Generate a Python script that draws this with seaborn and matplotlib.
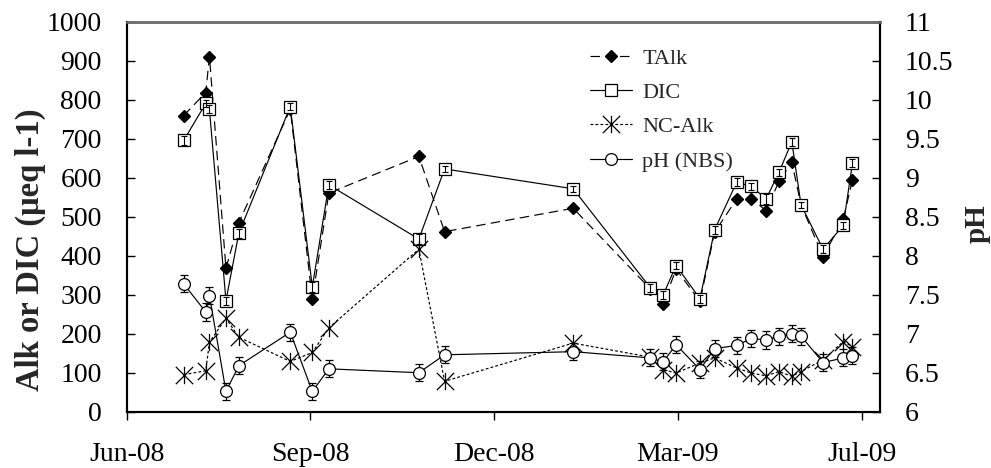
import matplotlib
matplotlib.use("Agg")
import matplotlib.pyplot as plt
import matplotlib.dates as mdates
from matplotlib.path import Path
from matplotlib.ticker import FuncFormatter, MultipleLocator
import pandas as pd
import seaborn as sns

# Sampling dates and measured series
sample_dates = [
    "2008-07-02", "2008-07-14", "2008-07-16", "2008-07-25", "2008-08-01",
    "2008-08-29", "2008-09-10", "2008-09-19", "2008-11-07", "2008-11-21",
    "2009-01-30", "2009-03-13", "2009-03-20", "2009-03-27", "2009-04-09",
    "2009-04-17", "2009-04-29", "2009-05-07", "2009-05-15", "2009-05-22",
    "2009-05-29", "2009-06-03", "2009-06-15", "2009-06-26", "2009-07-01",
]
talk = [760, 819, 911, 368, 485, 776, 289, 561, 655, 462, 522, 315, 277,
        366, 283, 461, 546, 546, 516, 591, 640, 531, 398, 494, 595]
dic = [696, 791, 776, 285, 458, 783, 320, 582, 443, 623, 572, 318, 300,
       375, 290, 467, 589, 578, 546, 614, 693, 531, 417, 478, 638]
dic_err = [12, 10, 10, 10, 12, 8, 12, 10, 12, 8, 8, 10, 10,
           10, 10, 10, 10, 10, 12, 10, 10, 8, 10, 10, 10]
nc_alk = [95, 105, 178, 240, 191, 129, 152, 215, 417, 78, 176, 140, 108,
          99, 125, 138, 112, 99, 92, 103, 91, 103, 133, 180, 167]
ph = [7.64, 7.28, 7.49, 6.26, 6.59, 7.02, 6.26, 6.55, 6.50, 6.73, 6.77,
      6.69, 6.64, 6.86, 6.54, 6.81, 6.85, 6.94, 6.92, 6.97, 7.00, 6.97,
      6.63, 6.69, 6.72]
ph_err = [0.11, 0.11, 0.11, 0.11, 0.11, 0.11, 0.11, 0.11, 0.11, 0.11, 0.11,
          0.11, 0.11, 0.11, 0.11, 0.11, 0.11, 0.11, 0.11, 0.11, 0.11, 0.11,
          0.11, 0.11, 0.11]

series_labels = ["TAlk", "DIC", "NC-Alk", "pH (NBS)"]
axis_start, axis_end = "2008-06-01", "2009-07-16"

sns.set_theme(style="white")
plt.rcParams["font.family"] = ["Liberation Serif", "DejaVu Serif"]

df = pd.DataFrame({
    "date": pd.to_datetime(sample_dates),
    "TAlk": talk, "DIC": dic, "NC-Alk": nc_alk, "pH": ph,
})

fig = plt.figure(figsize=(9.91, 4.68), dpi=100)
ax = fig.add_axes([0.1279, 0.1203, 0.7601, 0.8327])
ax2 = ax.twinx()

# Asterisk marker: vertical bar plus a cross
asterisk = Path(
    [(0, -1), (0, 1), (-1, -1), (1, 1), (-1, 1), (1, -1)],
    [Path.MOVETO, Path.LINETO, Path.MOVETO, Path.LINETO, Path.MOVETO, Path.LINETO],
)

common = dict(estimator=None, sort=False, color="black", linewidth=0.85)

sns.lineplot(data=df, x="date", y="TAlk", ax=ax, linestyle=(0, (8, 4.5)),
             marker="D", markersize=5.8, markerfacecolor="black",
             markeredgecolor="black", markeredgewidth=1.0,
             label=series_labels[0], zorder=3, **common)
sns.lineplot(data=df, x="date", y="DIC", ax=ax, linestyle="-",
             marker="s", markersize=8.4, markerfacecolor="white",
             markeredgecolor="black", markeredgewidth=0.9,
             label=series_labels[1], zorder=3, **common)
ax.errorbar(df["date"], dic, yerr=dic_err, fmt="none", ecolor="black",
            elinewidth=0.8, capsize=2.3, capthick=0.8, zorder=4)
sns.lineplot(data=df, x="date", y="NC-Alk", ax=ax, linestyle=(0, (2.4, 1.8)),
             marker=asterisk, markersize=12.5, markerfacecolor="none",
             markeredgecolor="black", markeredgewidth=0.9,
             label=series_labels[2], zorder=3, **common)

ax2.errorbar(df["date"], ph, yerr=ph_err, fmt="none", ecolor="black",
             elinewidth=0.9, capsize=3.2, capthick=0.9, zorder=2)
sns.lineplot(data=df, x="date", y="pH", ax=ax2, linestyle="-",
             marker="o", markersize=8.5, markerfacecolor="white",
             markeredgecolor="black", markeredgewidth=0.9,
             label=series_labels[3], zorder=3, **common)

# Axis ranges and ticks
ax.set_xlim(pd.Timestamp(axis_start), pd.Timestamp(axis_end))
ax.set_xticks(pd.date_range(axis_start, periods=5, freq="100D"))
ax.xaxis.set_major_formatter(mdates.DateFormatter("%b-%y"))
ax.set_ylim(0, 1000)
ax.yaxis.set_major_locator(MultipleLocator(100))
ax2.set_ylim(6, 11)
ax2.yaxis.set_major_locator(MultipleLocator(0.5))
ax2.yaxis.set_major_formatter(FuncFormatter(lambda v, _: f"{v:g}"))

ax.set_xlabel("")
ax.set_ylabel("")
ax2.set_ylabel("")

ax.tick_params(axis="y", direction="in", length=6, width=1.0, pad=18,
               labelsize=20, left=True, right=False, colors="black")
ax.tick_params(axis="x", direction="out", length=6, width=1.0, pad=16,
               labelsize=20, bottom=True, colors="black")
ax2.tick_params(axis="y", direction="in", length=6, width=1.0, pad=18,
                labelsize=20, right=True, left=False, colors="black")

for a in (ax, ax2):
    for side in ("left", "right", "bottom"):
        a.spines[side].set_color("black")
        a.spines[side].set_linewidth(1.5)
    a.spines["top"].set_color("#6e6e6e")
    a.spines["top"].set_linewidth(1.8)

# Legend combining both axes
h1, l1 = ax.get_legend_handles_labels()
h2, l2 = ax2.get_legend_handles_labels()
for a in (ax, ax2):
    if a.get_legend() is not None:
        a.get_legend().remove()
ax2.legend(h1 + h2, l1 + l2, loc="upper left",
           bbox_to_anchor=(590 / 991, 1 - 48 / 468),
           bbox_transform=fig.transFigure, frameon=False, fontsize=16,
           borderpad=0, borderaxespad=0, handlelength=1.9,
           handletextpad=0.45, labelspacing=0.62)

fig.text(30 / 991, 1 - 250 / 468, "Alk or DIC (\u03bceq l-1)", rotation=90,
         ha="center", va="center", fontsize=23.5, fontweight="bold")
fig.text(977 / 991, 1 - 224 / 468, "pH", rotation=90,
         ha="center", va="center", fontsize=21, fontweight="bold")

fig.savefig("out.png", dpi=100)
